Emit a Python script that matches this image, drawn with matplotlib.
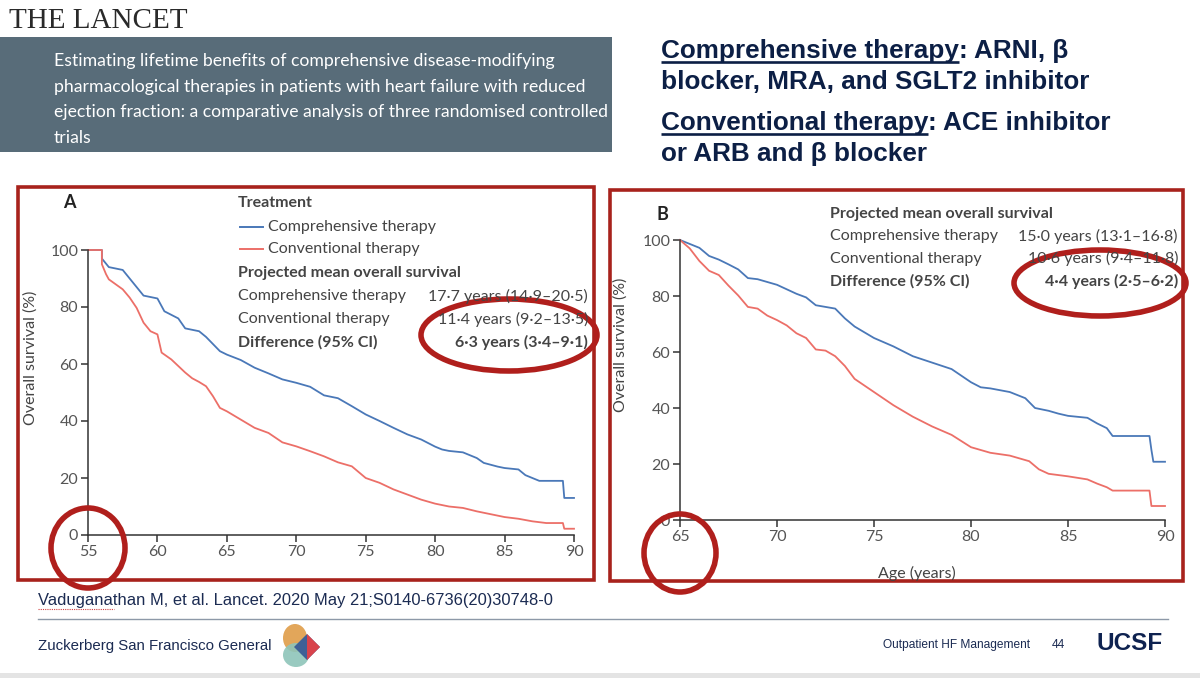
import matplotlib
matplotlib.use("Agg")
import matplotlib.pyplot as plt
from matplotlib.patches import Rectangle, Ellipse, Polygon

# DATA
# panel A: age 55-90
age_a = [55, 56.0, 56.0, 56.5, 57.5, 58, 58.5, 59, 60, 60.5, 61.5, 62, 63, 63.5, 64, 64.5, 65,
         66, 67, 68, 69, 70, 71, 72, 73, 74, 75, 76, 77, 78, 79, 80, 80.5, 81, 82, 83, 83.5,
         84.5, 85, 86, 86.5, 87.5, 89.2, 89.3, 90]
comp_a = [100, 100, 97, 94, 93, 90, 87, 84, 83, 78.5, 76, 72.5, 71.5, 69.5, 67, 64.5, 63.3,
          61.4, 58.7, 56.7, 54.6, 53.4, 52, 49, 48, 45.2, 42.3, 40, 37.6, 35.3, 33.5, 31, 30,
          29.5, 29, 27, 25.3, 24, 23.5, 23, 21, 19, 19, 13, 13]
age_a2 = [55, 56.0, 56.0, 56.3, 56.5, 57.5, 58, 58.5, 59, 59.5, 60, 60.3, 61, 61.5, 62, 62.5,
          63, 63.5, 64, 64.5, 65, 66, 67, 68, 69, 70, 71, 72, 73, 74, 75, 76, 77, 78, 79, 80,
          81, 82, 83, 84, 85, 86, 87, 88, 89.2, 89.3, 90]
conv_a = [100, 100, 95, 91.5, 89.7, 86.2, 83.3, 79.7, 74.5, 71.5, 70.4, 64, 61.6, 59.3, 57,
          55, 53.7, 52.2, 48.7, 44.6, 43.4, 40.5, 37.6, 35.8, 32.5, 31.1, 29.4, 27.6, 25.5,
          24.1, 20, 18.3, 16, 14.2, 12.4, 11, 10, 9.5, 8.3, 7.3, 6.3, 5.7, 4.8, 4.2, 4.2, 2.2, 2.2]

# panel B: age 65-90
age_b = [65, 66, 66.5, 67, 67.5, 68, 68.5, 69, 70, 71, 71.5, 72, 73, 73.5, 74, 75, 76, 77, 78,
         79, 80, 80.5, 81, 82, 82.8, 83.3, 84, 84.5, 85, 86, 86.5, 87, 87.3, 89.2, 89.3, 89.4, 90]
comp_b = [100, 97.2, 94.3, 93, 91.3, 89.5, 86.4, 86, 84, 80.8, 79.5, 76.7, 75.5, 72, 69.1, 65,
          62, 58.5, 56.2, 53.9, 49.2, 47.4, 47, 45.7, 43.5, 40, 39, 38, 37.2, 36.5, 34.5, 32.8,
          30, 30, 25, 20.8, 20.8]
age_b2 = [65, 65.5, 66, 66.5, 67, 67.5, 68, 68.5, 69, 69.5, 70, 70.5, 71, 71.5, 72, 72.5, 73,
          73.5, 74, 75, 76, 77, 78, 79, 80, 81, 82, 83, 83.5, 84, 85, 86, 86.5, 87, 87.3, 89.2,
          89.3, 90]
conv_b = [100, 97, 92.5, 89, 87.5, 83.7, 80.2, 76.1, 75.5, 73, 71.4, 69.5, 66.7, 65, 60.9, 60.5,
          58.5, 55, 50.4, 45.7, 41, 36.9, 33.4, 30.4, 26, 24, 23, 21, 18.1, 16.5, 15.6, 14.5, 13,
          11.7, 10.5, 10.5, 5, 5]

xticks_a = [55, 60, 65, 70, 75, 80, 85, 90]
xticks_b = [65, 70, 75, 80, 85, 90]
yticks = [0, 20, 40, 60, 80, 100]

summary_a = [("Comprehensive therapy", "17·7 years (14·9–20·5)"),
             ("Conventional therapy", "11·4 years (9·2–13·5)"),
             ("Difference (95% CI)", "6·3 years (3·4–9·1)")]
summary_b = [("Comprehensive therapy", "15·0 years (13·1–16·8)"),
             ("Conventional therapy", "10·6 years (9·4–11·8)"),
             ("Difference (95% CI)", "4·4 years (2·5–6·2)")]

title_lines = ["Estimating lifetime benefits of comprehensive disease-modifying",
               "pharmacological therapies in patients with heart failure with reduced",
               "ejection fraction: a comparative analysis of three randomised controlled",
               "trials"]

W, H = 1200, 678
BLUE = "#4a78b8"
RED = "#ec6f68"
DARKRED = "#a8221c"
NAVY = "#0c1f45"
GREY = "#555555"
LFONT = ["Lato", "DejaVu Sans"]
SFONT = ["Liberation Sans", "DejaVu Sans"]

fig = plt.figure(figsize=(12, 6.78), dpi=100)
fig.patch.set_facecolor("white")


def fig_rect(x0, y0, x1, y1):
    # pixel box (top-left origin) -> figure fraction
    return [x0 / W, 1 - y1 / H, (x1 - x0) / W, (y1 - y0) / H]


def style_panel(ax, xticks, xlim):
    ax.set_xlim(*xlim)
    ax.set_ylim(0, 100)
    ax.set_facecolor("none")
    for s in ["top", "right"]:
        ax.spines[s].set_visible(False)
    for s in ["left", "bottom"]:
        ax.spines[s].set_color("#333333")
        ax.spines[s].set_linewidth(1.1)
    ax.set_xticks(xticks)
    ax.set_yticks(yticks)
    ax.tick_params(direction="out", length=5, width=1.1, color="#333333",
                   labelcolor=GREY, labelsize=11.5, pad=2)
    for lab in ax.get_xticklabels() + ax.get_yticklabels():
        lab.set_family(LFONT)


# panel A
axA = fig.add_axes(fig_rect(88, 250, 574, 535))
axA.plot(age_a, comp_a, color=BLUE, lw=1.3, clip_on=False)
axA.plot(age_a2, conv_a, color=RED, lw=1.3, clip_on=False)
style_panel(axA, xticks_a, (55, 90))

# panel B
axB = fig.add_axes(fig_rect(680, 240, 1165, 520))
axB.plot(age_b, comp_b, color=BLUE, lw=1.3, clip_on=False)
axB.plot(age_b2, conv_b, color=RED, lw=1.3, clip_on=False)
style_panel(axB, xticks_b, (65, 90))

# overlay in pixel coordinates
ov = fig.add_axes([0, 0, 1, 1], zorder=10)
ov.set_xlim(0, W)
ov.set_ylim(H, 0)
ov.axis("off")
ov.patch.set_alpha(0)

# header
ov.text(9, 28, "THE LANCET", family=["Liberation Serif", "DejaVu Serif"], fontsize=21,
        color="#2a2a2a", va="baseline")
ov.add_patch(Rectangle((0, 37), 612, 115, color="#586c79", lw=0))
for i, line in enumerate(title_lines):
    ov.text(54, 61 + i * 25.7, line, family=LFONT, fontsize=12.7, color="white", va="center")

# right side therapy definitions with underlined keywords
renderer = fig.canvas.get_renderer()
right_lines = [("Comprehensive therapy", ": ARNI, β", 58),
               (None, "blocker, MRA, and SGLT2 inhibitor", 89),
               ("Conventional therapy", ": ACE inhibitor", 130),
               (None, "or ARB and β blocker", 161)]
for key, rest, yb in right_lines:
    kw = dict(family=SFONT, fontsize=18.8, weight="bold", color=NAVY, va="baseline")
    if key is None:
        ov.text(661, yb, rest, **kw)
        continue
    t = ov.text(661, yb, key, **kw)
    bb = t.get_window_extent(renderer).transformed(ov.transData.inverted())
    x_end = bb.x1
    ov.plot([661, x_end], [yb + 3.5, yb + 3.5], color=NAVY, lw=1.9, solid_capstyle="butt")
    ov.text(x_end, yb, rest, **kw)

# panel frames
ov.add_patch(Rectangle((18, 187), 576, 393, fill=False, ec=DARKRED, lw=2.6))
ov.add_patch(Rectangle((610, 190), 573, 391, fill=False, ec=DARKRED, lw=2.6))

# panel A annotations
tk = dict(family=LFONT, fontsize=11.5, color="#444444", va="center")
ov.text(63, 203, "A", family=LFONT, fontsize=13, weight="bold", color="#222222", va="center")
ov.text(238, 203, "Treatment", weight="bold", **tk)
ov.plot([240, 263], [227, 227], color=BLUE, lw=1.4)
ov.plot([240, 263], [249, 249], color=RED, lw=1.4)
ov.text(268, 227, "Comprehensive therapy", **tk)
ov.text(268, 249, "Conventional therapy", **tk)
ov.text(238, 273, "Projected mean overall survival", weight="bold", **tk)
for i, (lab, val) in enumerate(summary_a):
    w = "bold" if i == 2 else "normal"
    ov.text(238, 296 + i * 23, lab, weight=w, **tk)
    ov.text(588, 296 + i * 23, val, ha="right", weight=w, **tk)
ov.text(31, 358, "Overall survival (%)", rotation=90, ha="center", **tk)

# panel B annotations
ov.text(656, 214, "B", family=LFONT, fontsize=13, weight="bold", color="#222222", va="center")
ov.text(830, 214, "Projected mean overall survival", weight="bold", **tk)
for i, (lab, val) in enumerate(summary_b):
    w = "bold" if i == 2 else "normal"
    ov.text(830, 236 + i * 22.5, lab, weight=w, **tk)
    ov.text(1178, 236 + i * 22.5, val, ha="right", weight=w, **tk)
ov.text(621, 345, "Overall survival (%)", rotation=90, ha="center", **tk)
ov.text(917, 573, "Age (years)", ha="center", **tk)

# red highlight ellipses
for cx, cy, ew, eh in [(88, 548, 74, 80), (509, 335, 176, 72),
                       (680, 553, 72, 78), (1100, 283, 172, 66)]:
    ov.add_patch(Ellipse((cx, cy), ew, eh, fill=False, ec="#b01f1c", lw=4))

# footer
ov.text(38, 600, "Vaduganathan M, et al. Lancet. 2020 May 21;S0140-6736(20)30748-0",
        family=SFONT, fontsize=11.9, color="#1b2b52", va="center")
ov.plot([38, 114], [609, 609], color="#d04040", lw=0.8, ls=(0, (1, 1)))
ov.plot([38, 1168], [619, 619], color="#8d99a8", lw=1)
ov.text(38, 646, "Zuckerberg San Francisco General", family=SFONT, fontsize=10.8,
        color="#1b2b52", va="center")
ov.add_patch(Ellipse((295, 638), 24, 28, color="#e2a65a", lw=0))
ov.add_patch(Ellipse((296, 655), 26, 24, color="#8ec5b9", lw=0, alpha=0.9))
ov.add_patch(Polygon([[307, 634], [320, 647], [307, 660], [294, 647]], color="#3f6096", lw=0))
ov.add_patch(Polygon([[307, 634], [320, 647], [307, 660]], color="#d8434c", lw=0))
ov.text(883, 645, "Outpatient HF Management", family=SFONT, fontsize=8.6,
        color="#1b2b52", va="center")
ov.text(1052, 645, "44", family=SFONT, fontsize=8.6, color="#1b2b52", va="center")
ov.text(1097, 644, "UCSF", family=SFONT, fontsize=17.5, weight="bold", color="#0e2250",
        va="center")
ov.add_patch(Rectangle((0, 673), W, 5, color="#e4e4e4", lw=0))

fig.savefig("out.png", dpi=100)
